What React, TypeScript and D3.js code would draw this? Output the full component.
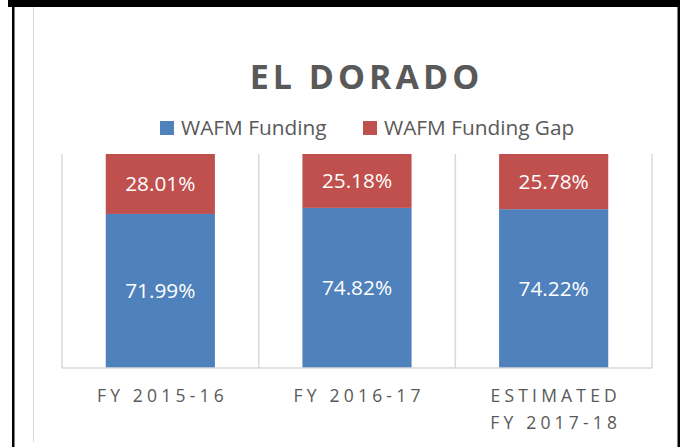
import React from "react";
import * as d3 from "d3";

const categories = ["FY 2015-16", "FY 2016-17", "ESTIMATED\nFY 2017-18"];
const funding = [71.99, 74.82, 74.22];
const fundingGap = [28.01, 25.18, 25.78];
const seriesNames = ["WAFM Funding", "WAFM Funding Gap"];
const colors = ["#4F81BD", "#C0504D"];
const title = "EL DORADO";

const W = 680;
const H = 447;
const plotLeft = 62;
const plotRight = 652;
const plotTop = 154;
const plotBottom = 368;
const FONT = "'Open Sans', 'Liberation Sans', sans-serif";
const GRAY = "#595959";
const GRID = "#D9D9D9";

export default function App() {
  const x = d3.scaleBand<string>().domain(categories).range([plotLeft, plotRight]).paddingInner(0).paddingOuter(0);
  const y = d3.scaleLinear().domain([0, 100]).range([plotBottom, plotTop]);
  const bw = x.bandwidth() * 0.555;

  const stackData = categories.map((c, i) => ({ cat: c, a: funding[i], b: fundingGap[i] }));
  const stacked = d3.stack<any>().keys(["a", "b"])(stackData);

  const gridXs = [...categories.map((c) => x(c) as number), plotRight];

  return (
    <svg width={W} height={H} style={{ position: "absolute", left: 0, top: 0, background: "#fff" }} fontFamily={FONT}>
      <rect x={0} y={0} width={W} height={H} fill="#fff" />
      {/* frame */}
      <rect x={8} y={0} width={672} height={7} fill="#000" />
      <rect x={12} y={7} width={2.5} height={H - 7} fill="#000" />
      <rect x={677.5} y={7} width={2.5} height={H - 7} fill="#000" />
      <line x1={33.5} x2={33.5} y1={7} y2={442} stroke={GRID} strokeWidth={1} />

      {/* title */}
      <text x={364.5 + 2} y={89} textAnchor="middle" fontSize={34} fontWeight={700} fill={GRAY} letterSpacing={4}>
        {title}
      </text>

      {/* legend */}
      <rect x={160} y={121} width={14} height={14} fill={colors[0]} />
      <text x={181} y={135} fontSize={20.8} fill={GRAY}>{seriesNames[0]}</text>
      <rect x={363} y={121} width={14} height={14} fill={colors[1]} />
      <text x={384} y={135} fontSize={20.8} fill={GRAY}>{seriesNames[1]}</text>

      {/* gridlines */}
      {gridXs.map((gx, i) => (
        <line key={i} x1={gx} x2={gx} y1={plotTop} y2={plotBottom} stroke={GRID} strokeWidth={1.5} />
      ))}

      {/* bars */}
      {stacked.map((s, si) =>
        s.map((d: any, i: number) => {
          const cx = (x(categories[i]) as number) + x.bandwidth() / 2;
          const y0 = y(d[1]);
          const y1 = y(d[0]);
          const val = si === 0 ? funding[i] : fundingGap[i];
          return (
            <g key={`${si}-${i}`}>
              <rect x={cx - bw / 2} y={y0} width={bw} height={y1 - y0} fill={colors[si]} />
              <text x={cx} y={(y0 + y1) / 2} dy="0.36em" textAnchor="middle" fontSize={20.8} fill="#fff">
                {val.toFixed(2)}%
              </text>
            </g>
          );
        })
      )}

      {/* axis */}
      <line x1={plotLeft} x2={plotRight} y1={plotBottom} y2={plotBottom} stroke={GRID} strokeWidth={1.5} />
      {categories.map((c) => {
        const cx = (x(c) as number) + x.bandwidth() / 2;
        const lines = c.split("\n");
        return (
          <text key={c} textAnchor="middle" fontSize={17.5} fill={GRAY} letterSpacing={4.2}>
            {lines.map((ln, li) => (
              <tspan key={li} x={cx + 2.1} y={402 + li * 27}>{ln}</tspan>
            ))}
          </text>
        );
      })}
    </svg>
  );
}
